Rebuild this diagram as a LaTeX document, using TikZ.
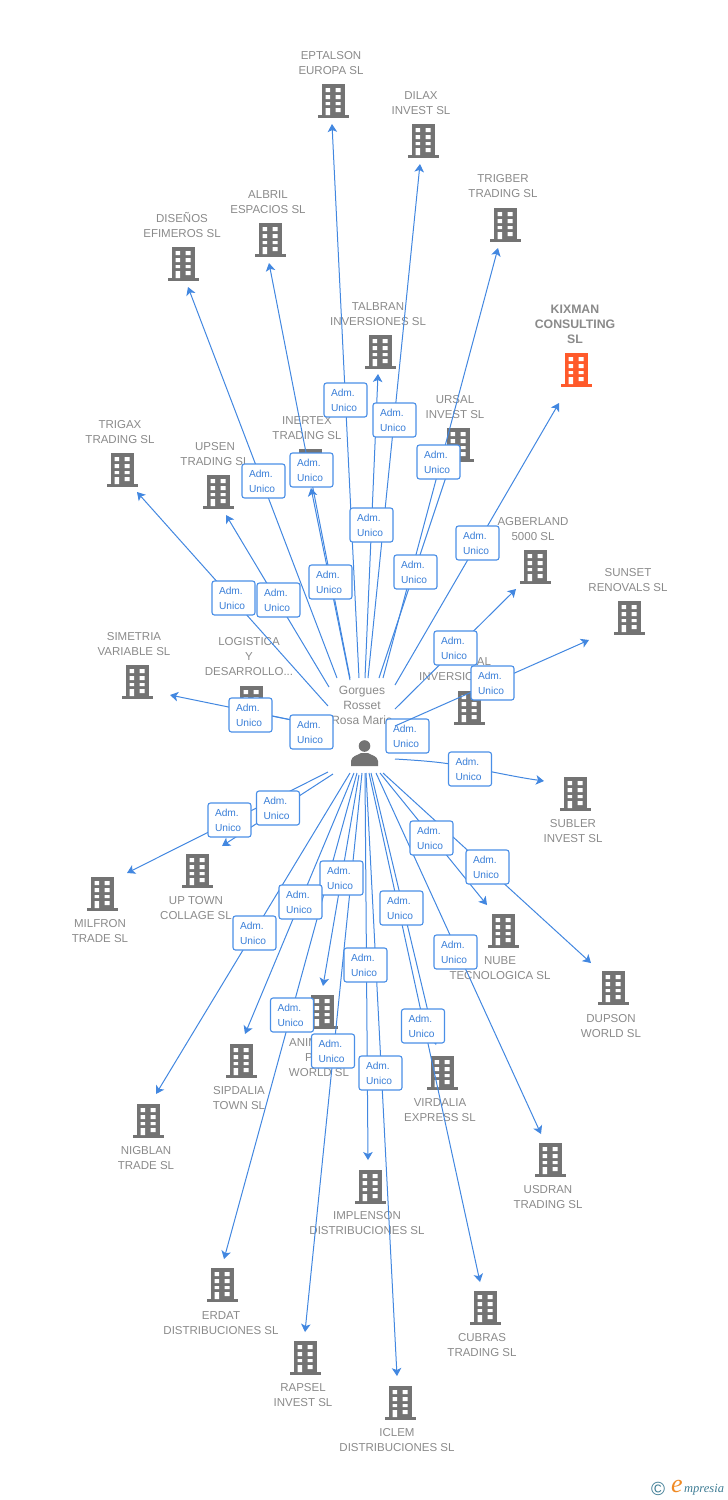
\documentclass[tikz,border=0pt]{standalone}
\usepackage{fontspec}
\setmainfont{Liberation Sans}
\newfontfamily\logofont{Liberation Serif}
\usetikzlibrary{arrows.meta}
\definecolor{lbl}{HTML}{8A8A8A}
\definecolor{ico}{HTML}{737373}
\definecolor{hot}{HTML}{FF5A2B}
\definecolor{wire}{HTML}{4287E0}
\definecolor{boxline}{HTML}{4A8FE7}
\definecolor{boxtxt}{HTML}{3A7FD8}
\definecolor{logoblue}{HTML}{3E7C94}
\definecolor{logoorange}{HTML}{F08A24}
\tikzset{
  x=1pt,y=-1pt,
  bldg/.pic={
    \fill[#1] (-11.5,-17) rectangle (11.5,15);
    \fill[#1] (-15.5,14) rectangle (15.5,17);
    \fill[white] (-7.5,-13) rectangle (-3,-9) (2.5,-13) rectangle (7.5,-9)
      (-7.5,-6) rectangle (-3,-2) (2.5,-6) rectangle (7.5,-2)
      (-7.5,1) rectangle (-3,4) (2.5,1) rectangle (7.5,4)
      (-7.5,7) rectangle (-3,14) (2.5,7) rectangle (7.5,11);
  },
  co/.style={font=\fontsize{11.5}{15}\selectfont,text=lbl,align=center,inner sep=0pt},
  wireline/.style={draw=wire,line width=1pt,-{Stealth[length=8pt,width=9.5pt,inset=2pt]}},
  adm/.style={draw=boxline,line width=1.1pt,fill=white,rounded corners=2.5pt,minimum width=43pt,minimum height=34pt,
    inner sep=0pt,text width=29pt,align=left,text=boxtxt,font=\fontsize{10.2}{15}\selectfont},
}
\begin{document}
\begin{tikzpicture}
\useasboundingbox (0,0) rectangle (728,1500);
% building icons
\foreach \n/\x/\y in {eptalson/333/101,dilax/423/141,trigber/505/225,disenos/183/264,albril/270/240,talbran/380/352,ursal/458/445,inertex/310/466,trigax/122/470,upsen/218/492,agberland/535/567,sunset/629/618,simetria/137/682,logistica/251/703,alinv/469/708,subler/575/794,uptown/197/871,milfron/102/894,nigblan/148/1121,sipdalia/241/1061,anima/322/1012,erdat/222/1285,rapsel/305/1358,implenson/370/1187,iclem/400/1403,cubras/485/1308,virdalia/442/1073,usdran/550/1160,nube/503/931,dupson/613/988}
  {\pic at (\x,\y) {bldg=ico}; \coordinate (i\n) at (\x,\y);}
\pic at (576,370) {bldg=hot};
\coordinate (ikixman) at (576,370);
% company labels
\foreach \n/\x/\y/\t in {
 eptalson/331/63/{EPTALSON\\EUROPA SL},dilax/421/103/{DILAX\\INVEST SL},trigber/503/186/{TRIGBER\\TRADING SL},
 disenos/182/225.5/{DISEÑOS\\EFIMEROS SL},albril/268/202/{ALBRIL\\ESPACIOS SL},talbran/378/314/{TALBRAN\\INVERSIONES SL},
 ursal/455/407/{URSAL\\INVEST SL},inertex/307/428/{INERTEX\\TRADING SL},trigax/120/432/{TRIGAX\\TRADING SL},
 upsen/215/454/{UPSEN\\TRADING SL},agberland/533/529/{AGBERLAND\\5000 SL},sunset/628/580/{SUNSET\\RENOVALS SL},
 simetria/134/644/{SIMETRIA\\VARIABLE SL},logistica/249/657/{LOGISTICA\\Y\\DESARROLLO...},
 subler/573/831/{SUBLER\\INVEST SL},uptown/196/908/{UP TOWN\\COLLAGE SL},milfron/100/931/{MILFRON\\TRADE SL},
 nigblan/146/1158/{NIGBLAN\\TRADE SL},sipdalia/239/1098/{SIPDALIA\\TOWN SL},erdat/221/1323/{ERDAT\\DISTRIBUCIONES SL},
 rapsel/303/1395/{RAPSEL\\INVEST SL},implenson/367/1223/{IMPLENSON\\DISTRIBUCIONES SL},iclem/397/1440/{ICLEM\\DISTRIBUCIONES SL},
 cubras/482/1345/{CUBRAS\\TRADING SL},virdalia/440/1110/{VIRDALIA\\EXPRESS SL},usdran/548/1197/{USDRAN\\TRADING SL},
 nube/500/968/{NUBE\\TECNOLOGICA SL},dupson/611/1026/{DUPSON\\WORLD SL}}
 {\node[co] (l\n) at (\x,\y) {\t};}
\node[co,font=\fontsize{12.3}{15}\selectfont\bfseries] (lkixman) at (575,324) {KIXMAN\\CONSULTING\\SL};
\node[co] (lalinva) at (484,662) {AL};
\node[co,anchor=west] (lalinvb) at (419,677) {INVERSIO};
\node[co,anchor=west] (lanimaa) at (289,1043) {ANIM};
\node[co,anchor=west] (lanimab) at (305,1058) {P};
\node[co] (lanimac) at (319,1073) {WORLD SL};
% person
\node[co,font=\fontsize{12}{15}\selectfont] (lperson) at (362,705) {Gorgues\\Rosset\\Rosa Maria};
\coordinate (person) at (365,755);
\fill[ico] (364.5,746) circle (5.8);
\fill[ico] (351,766) -- (351,761) .. controls (351.5,756) and (357,755.5) .. (361,753) -- (368,753) .. controls (372,755.5) and (377.5,756) .. (378,761) -- (378,766) -- cycle;
% connectors
\foreach \n/\sx/\sy/\ex/\ey in {
 eptalson/359/678/332/124, dilax/368/678/420/164, trigber/383/678/498/248, kixman/395/685/559/403,
 disenos/337/678/188/287, albril/350/678/269/263, talbran/365/678/378/374, ursal/379/678/450/465,
 inertex/350/680/311/488, trigax/328/706/137/492, upsen/329/687/226/515, agberland/395/709/516/589,
 simetria/331/728/170/695, logistica/331/728/262/714, alinv/395/748/425/735,
 uptown/333/774/222/846, milfron/328/772/127/873, nigblan/350/773/156/1094, sipdalia/354/773/245/1034,
 anima/359/775/323/986, erdat/357/773/224/1259, rapsel/362/773/305/1332, implenson/365/773/368/1160,
 iclem/366/773/397/1376, cubras/369/773/480/1282, virdalia/371/773/436/1045, usdran/376/773/541/1134,
 nube/380/773/487/905, dupson/383/773/591/963}
 {\coordinate (s\n) at (\sx,\sy); \coordinate (e\n) at (\ex,\ey); \draw[wireline] (s\n) -- (e\n);}
\coordinate (ssubler) at (395,759);
\coordinate (msubler) at (470,768);
\coordinate (esubler) at (544,781);
\draw[wireline] (ssubler) .. controls (430,761) and (450,763) .. (msubler) .. controls (490,771) and (515,777) .. (esubler);
% label boxes
\foreach \n/\x/\y in {
 eptalson/345.5/400, dilax/394.5/420, trigber/438.5/462, albril/311.5/470, disenos/263.5/481, kixman/477.5/543,
 talbran/371.5/525, ursal/415.5/572, inertex/330.5/582, trigax/233.5/598, upsen/278.5/600, agberland/455.5/648,
 simetria/250.5/715, logistica/311.5/732, alinv/407.5/736, subler/470/769,
 uptown/278/808, milfron/229.5/820, nube/431.5/838, dupson/487.5/867, anima/341.5/878, sipdalia/300.5/902,
 virdalia/401.5/908, nigblan/254.5/933, usdran/455.5/952, implenson/365.5/965, erdat/292/1015, cubras/423/1026,
 rapsel/333/1051, iclem/380.5/1073}
 {\node[adm] (b\n) at (\x,\y) {Adm.\\Unico};}
% the one connector that lies over a box
\coordinate (ssunset) at (395,726);
\coordinate (esunset) at (589,640);
\draw[wireline] (ssunset) -- (esunset);
\node[adm] (bsunset) at (492.5,683) {Adm.\\Unico};
% logo
\node[inner sep=0pt,text=logoblue,font=\fontsize{19}{19}\selectfont] (logoc) at (658,1489) {©};
\node[inner sep=0pt,text=logoorange,font=\logofont\itshape\fontsize{26}{26}\selectfont] (logoe) at (677,1486) {e};
\node[inner sep=0pt,anchor=west,text=logoblue,font=\logofont\itshape\fontsize{12.5}{13}\selectfont] (logot) at (684,1490) {mpresia};
\end{tikzpicture}
\end{document}
